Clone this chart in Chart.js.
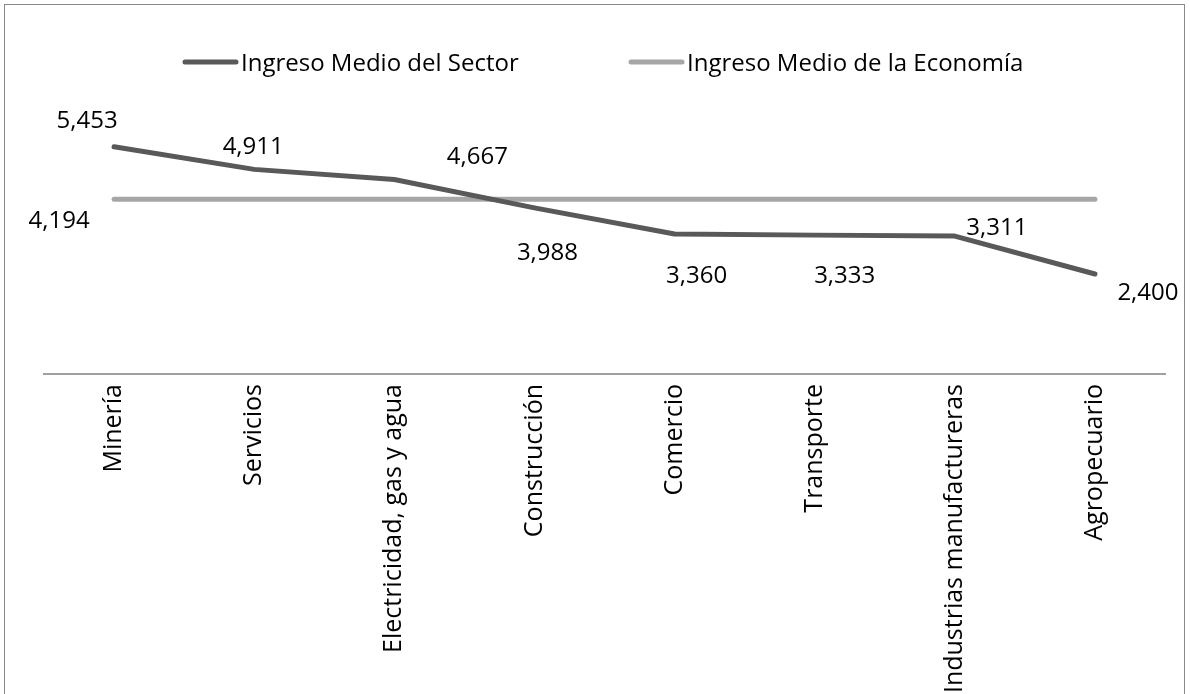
<!DOCTYPE html>
<html>
<head>
<meta charset="utf-8">
<script src="https://cdn.jsdelivr.net/npm/chart.js@4"></script>
<style>
  html, body { margin: 0; padding: 0; background: #fff; overflow: hidden; }
  #wrap { position: relative; width: 1190px; height: 694px; }
  #frame { position: absolute; left: 4px; top: 4px; width: 1181px; height: 720px; border: 1px solid #8a8a8a; box-sizing: border-box; pointer-events: none; }
  canvas { position: absolute; left: 0; top: 0; }
</style>
</head>
<body>
<div id="wrap">
  <canvas id="chart" width="1190" height="694"></canvas>
  <div id="frame"></div>
</div>
<script>
const sectores = ['Minería', 'Servicios', 'Electricidad, gas y agua', 'Construcción', 'Comercio', 'Transporte', 'Industrias manufactureras', 'Agropecuario'];
const ingresoSector = [5453, 4911, 4667, 3988, 3360, 3333, 3311, 2400];
const ingresoEconomia = [4194, 4194, 4194, 4194, 4194, 4194, 4194, 4194];
const nombresSeries = ['Ingreso Medio del Sector', 'Ingreso Medio de la Economía'];

const FONT = '"Open Sans", Lato, sans-serif';

// desplazamiento de cada etiqueta respecto a su punto (px)
const offsetsSector = [[-27, -26], [-1, -22], [83, -22], [13, 45], [22, 42], [30, 41], [42, -8], [53, 19]];
const offsetsEconomia = [[-55, 22]];

const etiquetas = {
	id: 'etiquetas',
	afterDatasetsDraw(chart) {
		const ctx = chart.ctx;
		ctx.save();
		ctx.font = '24px ' + FONT;
		ctx.fillStyle = '#000';
		ctx.textAlign = 'center';
		ctx.textBaseline = 'middle';
		const dibujar = (dsIndex, offsets) => {
			const meta = chart.getDatasetMeta(dsIndex);
			const valores = chart.data.datasets[dsIndex].data;
			offsets.forEach((o, i) => {
				const p = meta.data[i];
				ctx.fillText(valores[i].toLocaleString('en-US'), p.x + o[0], p.y + o[1]);
			});
		};
		dibujar(0, offsetsSector);
		dibujar(1, offsetsEconomia);
		ctx.restore();
	}
};

// leyenda dibujada a mano para situarla como en el original
const leyenda = {
	id: 'leyenda',
	afterDraw(chart) {
		const ctx = chart.ctx;
		const items = [{ x: 183 }, { x: 629 }];
		ctx.save();
		ctx.font = '24px ' + FONT;
		ctx.textBaseline = 'middle';
		ctx.textAlign = 'left';
		items.forEach((it, i) => {
			const ds = chart.data.datasets[i];
			const y = 62;
			ctx.strokeStyle = ds.borderColor;
			ctx.lineWidth = 5;
			ctx.lineCap = 'round';
			ctx.beginPath();
			ctx.moveTo(it.x + 2, y);
			ctx.lineTo(it.x + 53, y);
			ctx.stroke();
			ctx.fillStyle = '#000';
			ctx.fillText(ds.label, it.x + 58, y + 2);
		});
		ctx.restore();
	}
};

new Chart(document.getElementById('chart'), {
	type: 'line',
	data: {
		labels: sectores,
		datasets: [
			{
				label: nombresSeries[0],
				data: ingresoSector,
				borderColor: '#595959',
				borderWidth: 5,
				borderJoinStyle: 'round',
				borderCapStyle: 'round',
				pointRadius: 0,
				tension: 0
			},
			{
				label: nombresSeries[1],
				data: ingresoEconomia,
				borderColor: '#a6a6a6',
				borderWidth: 5,
				borderCapStyle: 'round',
				pointRadius: 0,
				tension: 0
			}
		]
	},
	options: {
		responsive: false,
		animation: false,
		layout: { padding: { left: 44, right: 25, top: 124, bottom: 0 } },
		plugins: {
			legend: { display: false },
			tooltip: { enabled: false }
		},
		scales: {
			x: {
				offset: true,
				grid: { display: false, drawTicks: false },
				border: { display: true, color: '#a0a0a0', width: 2 },
				ticks: {
					autoSkip: false,
					minRotation: 90,
					maxRotation: 90,
					padding: 10,
					color: '#000',
					font: { family: FONT, size: 25 }
				},
				afterFit(scale) { scale.height = 320; }
			},
			y: {
				display: false,
				min: 0,
				max: 6000
			}
		}
	},
	plugins: [etiquetas, leyenda]
});
</script>
</body>
</html>
